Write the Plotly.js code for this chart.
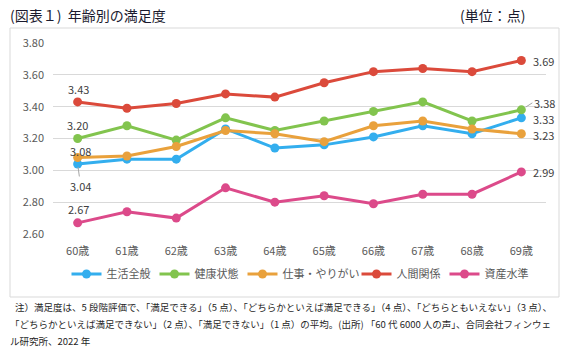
<!DOCTYPE html>
<html>
<head>
<meta charset="utf-8">
<script src="https://cdn.plot.ly/plotly-3.0.1.min.js"></script>
<style>
html,body{margin:0;padding:0;background:#fff;}
#chart{width:572px;height:358px;}
</style>
</head>
<body>
<div id="chart"></div>
<script>
const categories = ['60歳','61歳','62歳','63歳','64歳','65歳','66歳','67歳','68歳','69歳'];
const seriesNames = ['生活全般','健康状態','仕事・やりがい','人間関係','資産水準'];
const seikatsu = [3.04,3.07,3.07,3.26,3.14,3.16,3.21,3.28,3.23,3.33];
const kenko    = [3.20,3.28,3.19,3.33,3.25,3.31,3.37,3.43,3.31,3.38];
const shigoto  = [3.08,3.09,3.15,3.25,3.23,3.18,3.28,3.31,3.26,3.23];
const ningen   = [3.43,3.39,3.42,3.48,3.46,3.55,3.62,3.64,3.62,3.69];
const shisan   = [2.67,2.74,2.70,2.89,2.80,2.84,2.79,2.85,2.85,2.99];
const colors = ['#33AEEE','#82C44E','#E9A13C','#DB4A3B','#DC4A8A'];
const legendWidths = [43,43,69,43,43];
const yTicks = [2.6,2.8,3.0,3.2,3.4,3.6,3.8];

const values = [seikatsu,kenko,shigoto,ningen,shisan];
const FONT = '"Noto Sans CJK JP", "Noto Sans", sans-serif';

const traces = values.map((v,i)=>({
  type:'scatter', mode:'lines+markers', name:seriesNames[i],
  x:categories, y:v,
  line:{color:colors[i], width:3},
  marker:{color:colors[i], size:9},
  legendwidth:legendWidths[i],
  hoverinfo:'skip'
}));

const labelFont = {family:FONT, size:11, color:'#404040'};
const last = categories.length-1;
const firstCfg = [[3,1,13],[1,0,14],[2,3,7],[0,3,-22],[4,1,14]];
const annotations = [];
firstCfg.forEach(([s,xs,ys])=>{
  const v = values[s][0];
  if (s===0){
    annotations.push({x:categories[0], y:v, xref:'x', yref:'y', text:v.toFixed(2), font:labelFont,
      showarrow:true, arrowhead:0, arrowwidth:1, arrowcolor:'#A6A6A6', ax:3, ay:22, standoff:3});
  } else {
    annotations.push({x:categories[0], y:v, xref:'x', yref:'y', text:v.toFixed(2), font:labelFont,
      showarrow:false, xshift:xs, yshift:ys});
  }
});
const lastCfg = [[3,0],[1,7],[0,-1],[2,-1],[4,0]];
lastCfg.forEach(([s,ys])=>{
  const v = values[s][last];
  if (s===1){
    annotations.push({x:categories[last], y:v, xref:'x', yref:'y', text:v.toFixed(2), font:labelFont,
      showarrow:true, arrowhead:0, arrowwidth:1, arrowcolor:'#A6A6A6', ax:11, ay:-7, standoff:5, xanchor:'left'});
  } else {
    annotations.push({x:categories[last], y:v, xref:'x', yref:'y', text:v.toFixed(2), font:labelFont,
      showarrow:false, xanchor:'left', xshift:10, yshift:ys});
  }
});

const L=53, R=26, T=43, B=124, W=572, H=358;
const pw = W-L-R, ph = H-T-B;
const px = x => (x-L)/pw;
const py = y => (H-B-y)/ph;

annotations.push({xref:'paper', yref:'paper', x:px(8), y:py(15), xanchor:'left', yanchor:'middle',
  text:'(図表１)  年齢別の満足度', showarrow:false, font:{family:FONT, size:14, color:'#1a1a2e'}});
annotations.push({xref:'paper', yref:'paper', x:px(527), y:py(15), xanchor:'right', yanchor:'middle',
  text:'(単位：点)', showarrow:false, font:{family:FONT, size:14, color:'#1a1a2e'}});

const noteFont = {family:FONT, size:9.5, color:'#262626'};
const notes = [
  ['注）満足度は、5 段階評価で、「満足できる」（5 点）、「どちらかといえば満足できる」（4 点）、「どちらともいえない」（3 点）、', 13, 307],
  ['「どちらかといえば満足できない」（2 点）、「満足できない」（1 点）の平均。(出所) 「60 代 6000 人の声」、合同会社フィンウェ', 8, 324],
  ['ル研究所、2022 年', 8, 341]
];
notes.forEach(([t,x,y])=>{
  annotations.push({xref:'paper', yref:'paper', x:px(x), y:py(y), xanchor:'left', yanchor:'middle',
    text:t, showarrow:false, font:noteFont});
});

const layout = {
  width:W, height:H,
  margin:{l:L, r:R, t:T, b:B, pad:0},
  paper_bgcolor:'#ffffff', plot_bgcolor:'#ffffff',
  font:{family:FONT, size:11, color:'#595959'},
  showlegend:true,
  legend:{orientation:'h', x:0.5, xanchor:'center', xref:'paper', y:py(274), yanchor:'middle',
    font:{family:FONT, size:11, color:'#595959'}, itemwidth:30, tracegroupgap:0},
  xaxis:{type:'category', range:[-0.5,9.5], showgrid:false, zeroline:false, showline:false,
    ticks:'', ticklabelstandoff:9, tickfont:{family:FONT, size:11, color:'#595959'}, fixedrange:true},
  yaxis:{range:[2.6,3.8], tickvals:yTicks, ticktext:yTicks.map(v=>v.toFixed(2)), showgrid:true, gridcolor:'#D9D9D9', gridwidth:1,
    zeroline:false, showline:false, ticks:'', ticklabelstandoff:8,
    tickfont:{family:FONT, size:11, color:'#595959'}, fixedrange:true},
  shapes:[{type:'rect', xref:'paper', yref:'paper', x0:px(10), x1:px(559), y0:py(297), y1:py(28),
    line:{color:'#D9D9D9', width:1}, fillcolor:'rgba(0,0,0,0)', layer:'below'}],
  annotations:annotations
};

Plotly.newPlot('chart', traces, layout, {staticPlot:true, displayModeBar:false});
</script>
</body>
</html>
